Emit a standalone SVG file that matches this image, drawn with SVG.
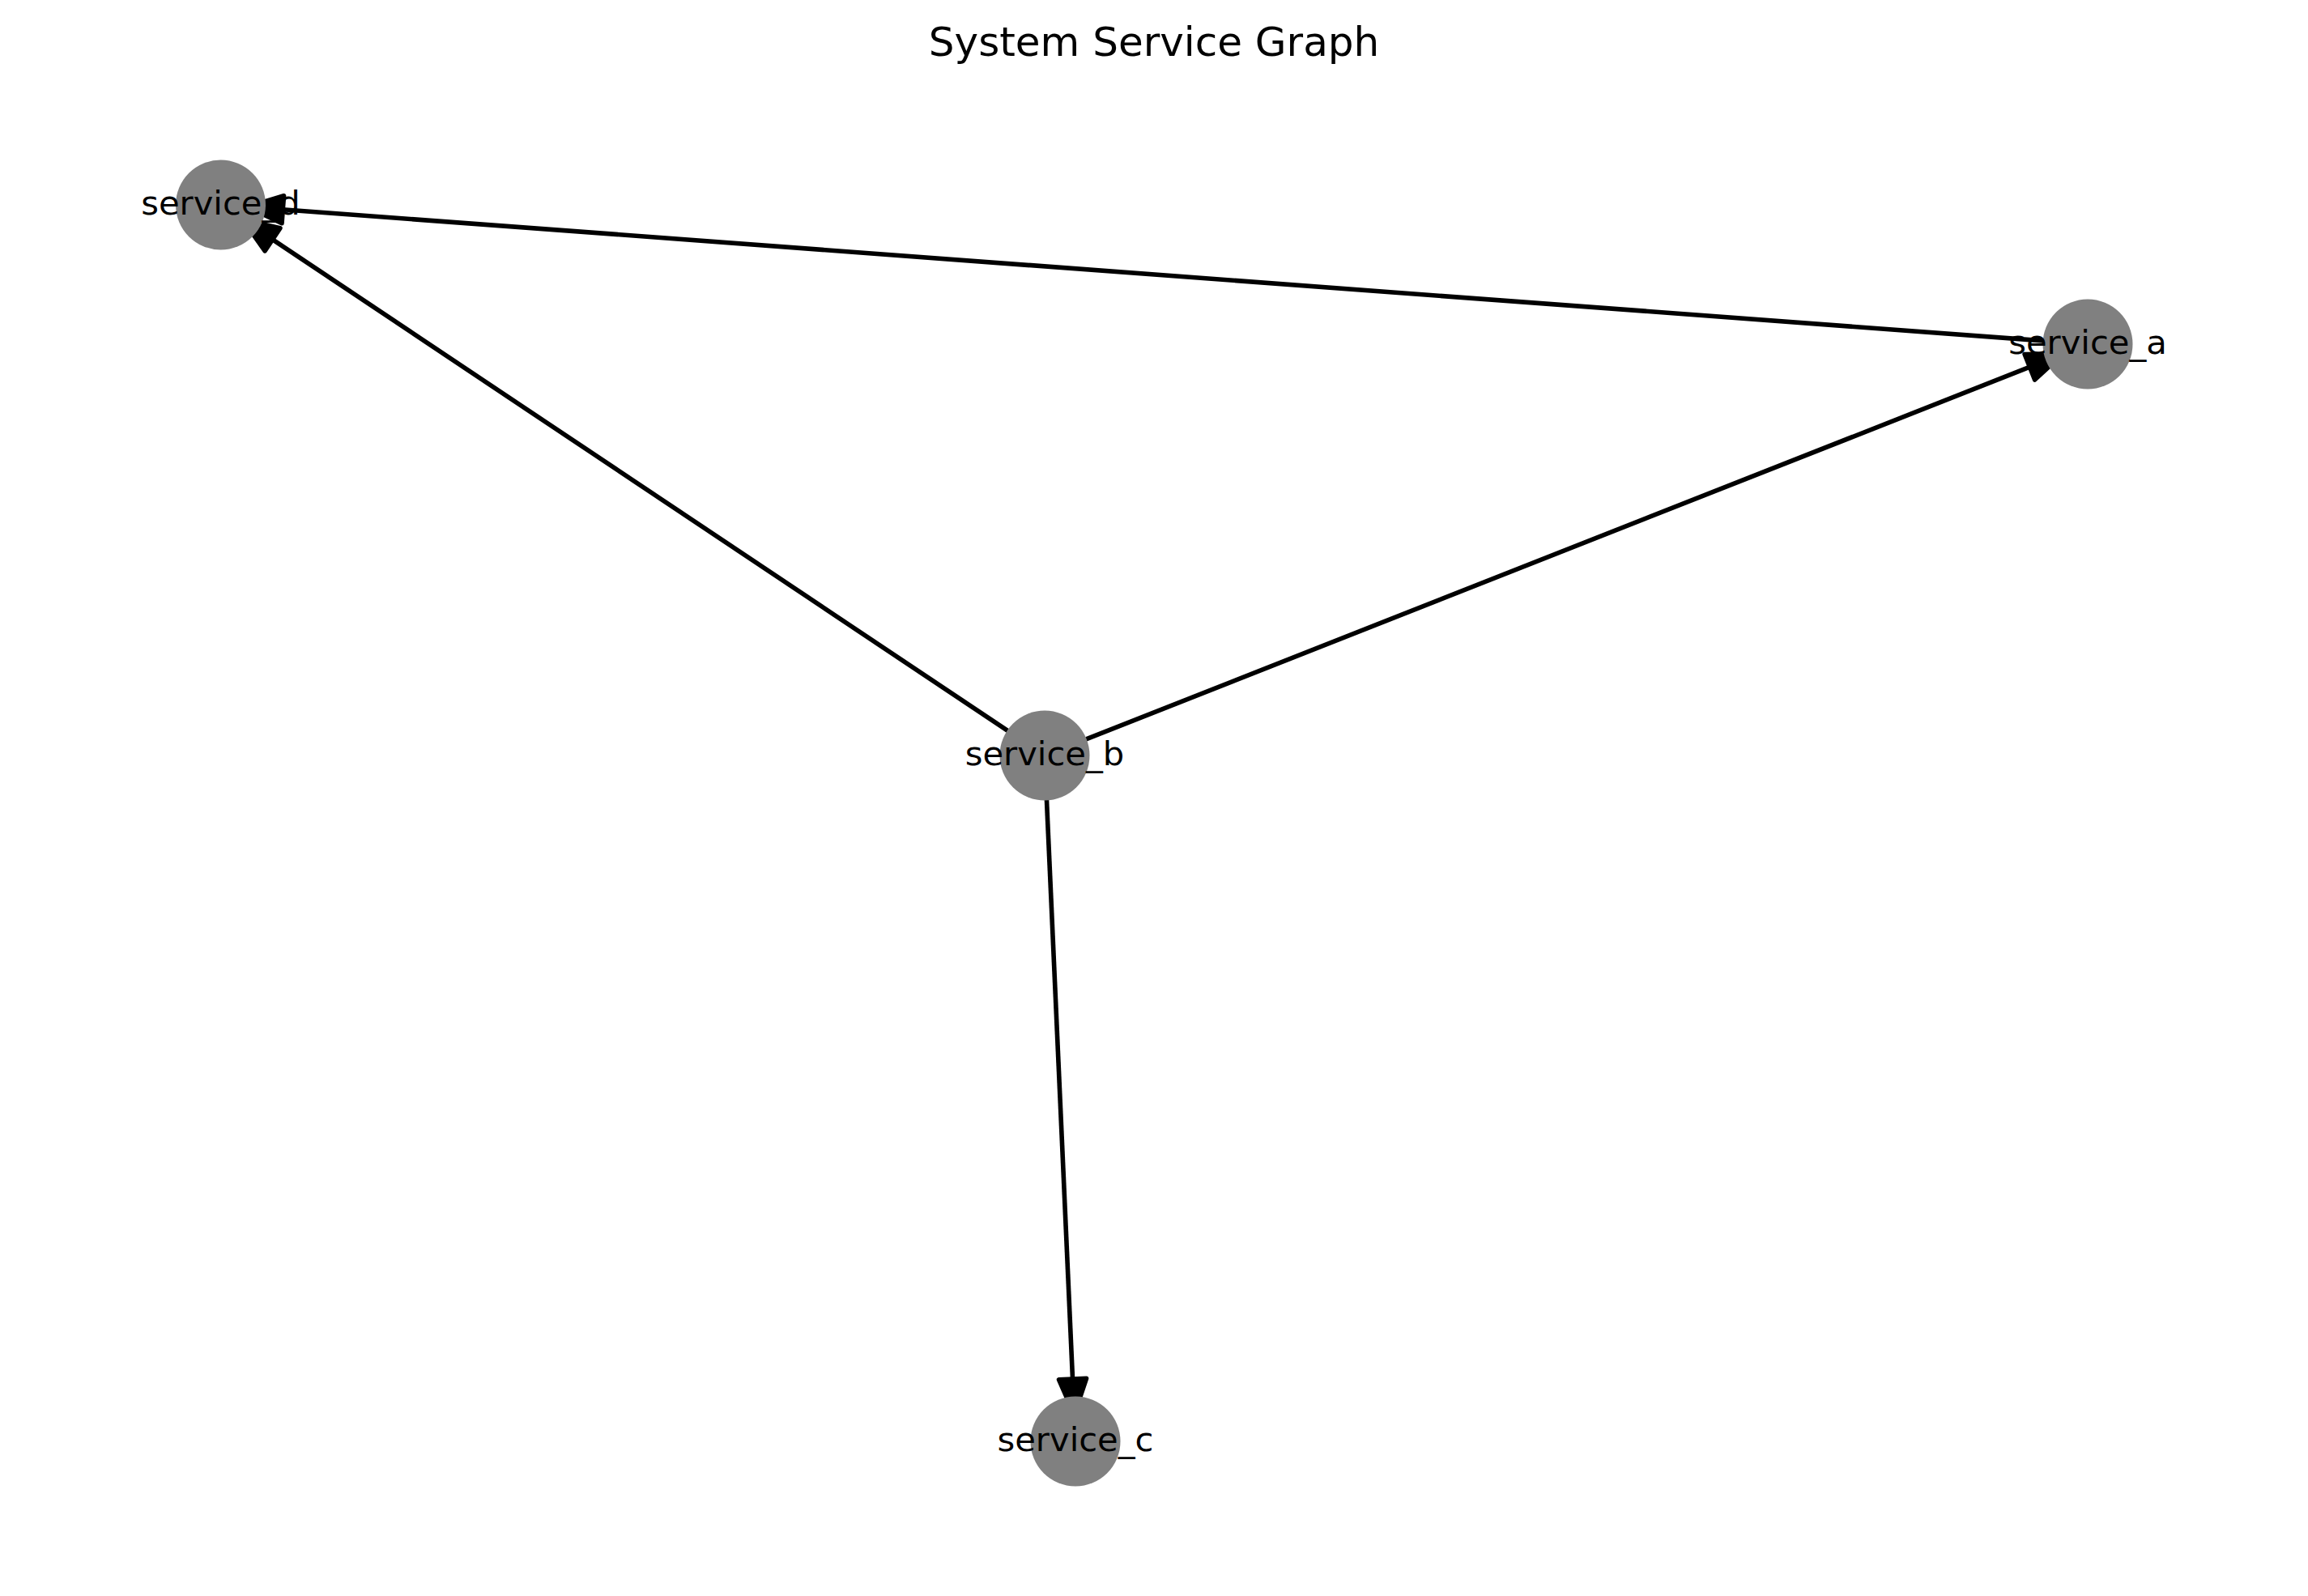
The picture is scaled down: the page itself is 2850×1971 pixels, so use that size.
<svg xmlns="http://www.w3.org/2000/svg" width="2850" height="1971" viewBox="0 0 2850 1971">
<style>
.edge{stroke:#000;stroke-width:5.6;fill:none;stroke-linecap:butt}
.head{fill:#000;stroke:#000;stroke-width:5.6;stroke-linejoin:round}
.node{fill:#808080}
.lbl{font-family:"DejaVu Sans","Liberation Sans",sans-serif;font-size:41.67px;fill:#000;text-anchor:middle}
.title{font-family:"DejaVu Sans","Liberation Sans",sans-serif;font-size:50px;fill:#000;text-anchor:middle}
</style>
<rect x="0" y="0" width="2850" height="1971" fill="#fff"/>
<text class="title" x="1425" y="68.5">System Service Graph</text>
<g id="connectors">
<g id="edge-a-d">
<line class="edge" x1="2523.15" y1="420.91" x2="342.31" y2="258.21"/>
<polygon class="head" points="305.41,255.46 350.55,241.78 348.03,275.68"/>
</g>
<g id="edge-b-d">
<line class="edge" x1="1244.27" y1="902.44" x2="330.70" y2="291.89"/>
<polygon class="head" points="299.94,271.34 345.97,281.65 327.07,309.91"/>
</g>
<g id="edge-b-a">
<line class="edge" x1="1341.16" y1="912.82" x2="2512.88" y2="450.68"/>
<polygon class="head" points="2547.30,437.11 2512.61,469.06 2500.13,437.44"/>
</g>
<g id="edge-b-c">
<line class="edge" x1="1292.47" y1="987.95" x2="1324.86" y2="1710.07"/>
<polygon class="head" points="1326.52,1747.03 1307.57,1703.84 1341.53,1702.32"/>
</g>
</g>
<g id="service_d">
<circle class="node" cx="272.5" cy="253" r="55.5"/>
<text class="lbl" x="272.5" y="265">service_d</text>
</g>
<g id="service_a">
<circle class="node" cx="2578" cy="425" r="55.5"/>
<text class="lbl" x="2578" y="437">service_a</text>
</g>
<g id="service_b">
<circle class="node" cx="1290" cy="933" r="55.5"/>
<text class="lbl" x="1290" y="945">service_b</text>
</g>
<g id="service_c">
<circle class="node" cx="1328" cy="1780" r="55.5"/>
<text class="lbl" x="1328" y="1792">service_c</text>
</g>
</svg>
